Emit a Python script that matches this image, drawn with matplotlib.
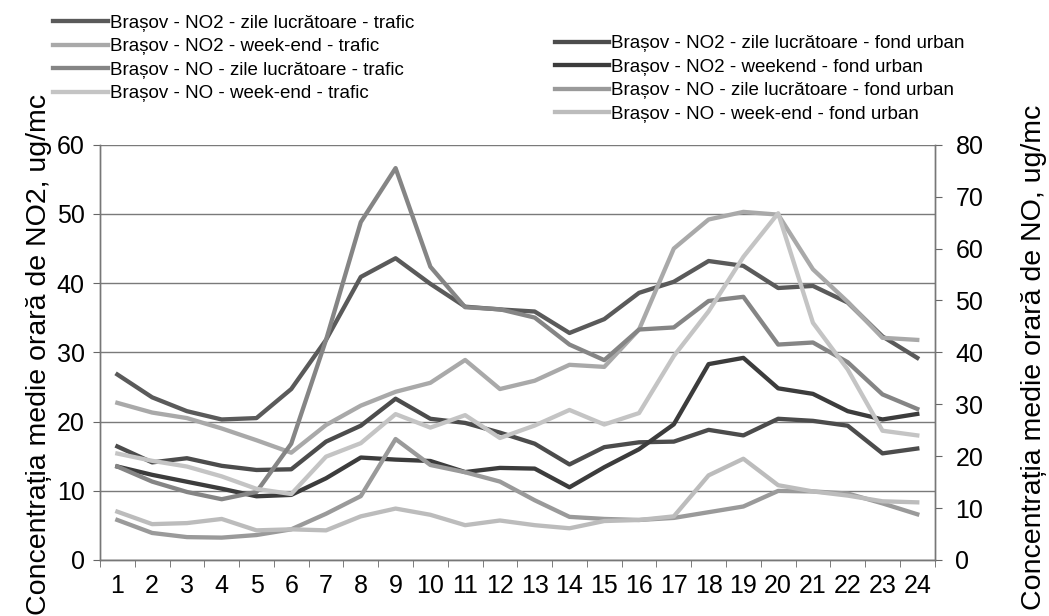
import matplotlib
matplotlib.use("Agg")
import matplotlib.pyplot as plt

plt.rcParams['font.family'] = ['Liberation Sans', 'DejaVu Sans']

hours = list(range(1, 25))
hour_labels = [str(h) for h in hours]

# NO2 series (left axis, ug/mc)
no2_zile_trafic = [26.8, 23.5, 21.5, 20.3, 20.5, 24.7, 31.8, 40.9, 43.6, 39.9, 36.6, 36.2,
                   35.9, 32.8, 34.8, 38.6, 40.2, 43.2, 42.5, 39.3, 39.6, 37.2, 32.3, 29.2]
no2_weekend_trafic = [22.7, 21.3, 20.5, 19.0, 17.3, 15.5, 19.5, 22.3, 24.3, 25.6, 28.9, 24.7,
                      25.9, 28.2, 27.9, 33.3, 45.0, 49.2, 50.3, 49.9, 42.0, 37.3, 32.1, 31.8]
no2_zile_fond = [16.4, 14.1, 14.7, 13.6, 13.0, 13.1, 17.1, 19.4, 23.3, 20.4, 19.8, 18.4,
                 16.8, 13.8, 16.3, 17.0, 17.1, 18.8, 18.0, 20.4, 20.1, 19.4, 15.4, 16.1]
no2_weekend_fond = [13.5, 12.3, 11.3, 10.3, 9.2, 9.4, 11.8, 14.8, 14.5, 14.3, 12.7, 13.3,
                    13.2, 10.5, 13.4, 16.0, 19.6, 28.3, 29.2, 24.8, 24.0, 21.5, 20.3, 21.1]

# NO series (right axis, ug/mc)
no_zile_trafic = [18.0, 15.1, 13.1, 11.7, 13.1, 22.4, 42.4, 65.1, 75.5, 56.5, 48.7, 48.3,
                  46.7, 41.5, 38.5, 44.4, 44.8, 49.9, 50.7, 41.5, 41.9, 38.1, 31.9, 29.1]
no_weekend_trafic = [20.5, 19.1, 18.0, 16.1, 13.7, 12.7, 19.9, 22.5, 28.1, 25.5, 27.9, 23.5,
                     25.9, 28.9, 26.1, 28.3, 39.3, 47.9, 58.4, 66.8, 45.7, 36.7, 24.9, 24.0]
no_zile_fond = [7.7, 5.2, 4.4, 4.3, 4.8, 5.9, 8.9, 12.3, 23.3, 18.3, 16.9, 15.1,
                11.5, 8.3, 7.9, 7.7, 8.1, 9.2, 10.3, 13.3, 13.2, 12.8, 10.9, 8.8]
no_weekend_fond = [9.3, 6.9, 7.1, 7.9, 5.7, 5.9, 5.7, 8.4, 9.9, 8.7, 6.7, 7.6,
                   6.7, 6.1, 7.5, 7.7, 8.4, 16.3, 19.5, 14.4, 13.2, 12.4, 11.3, 11.1]

left_series = [
    ("Brașov - NO2 - zile lucrătoare - trafic", no2_zile_trafic, "#5a5a5a"),
    ("Brașov - NO2 - week-end - trafic", no2_weekend_trafic, "#a9a9a9"),
    ("Brașov - NO2 - zile lucrătoare - fond urban", no2_zile_fond, "#4c4c4c"),
    ("Brașov - NO2 - weekend - fond urban", no2_weekend_fond, "#3c3c3c"),
]
right_series = [
    ("Brașov - NO - zile lucrătoare - trafic", no_zile_trafic, "#858585"),
    ("Brașov - NO - week-end - trafic", no_weekend_trafic, "#c4c4c4"),
    ("Brașov - NO - zile lucrătoare - fond urban", no_zile_fond, "#9a9a9a"),
    ("Brașov - NO - week-end - fond urban", no_weekend_fond, "#bcbcbc"),
]

LW = 3.1
fig = plt.figure(figsize=(10.49, 6.16), dpi=100)
ax = fig.add_axes([0.0953, 0.091, 0.7957, 0.674])
ax2 = ax.twinx()

handles = {}
for lab, vals, col in left_series:
    h, = ax.plot(hours, vals, color=col, lw=LW, zorder=3)
    handles[lab] = h
for lab, vals, col in right_series:
    h, = ax2.plot(hours, vals, color=col, lw=LW, zorder=3)
    handles[lab] = h

ax.set_xlim(0.5, 24.5)
ax.set_ylim(0, 60)
ax2.set_ylim(0, 80)
ax.set_yticks(range(0, 61, 10))
ax2.set_yticks(range(0, 81, 10))
ax.set_xticks(hours)
ax.set_xticklabels(hour_labels)
ax.set_xticks([h + 0.5 for h in range(0, 25)], minor=True)
ax.tick_params(axis='x', which='major', length=0, pad=10, labelsize=18)
ax.tick_params(axis='x', which='minor', length=5, direction='out', color='#666666')
ax.tick_params(axis='y', length=5, direction='out', labelsize=18, color='#666666', pad=6)
ax2.tick_params(axis='y', length=5, direction='out', labelsize=18, color='#666666', pad=10)

ax.grid(axis='y', color='#7a7a7a', lw=1.0)
ax.set_axisbelow(True)
for a in (ax, ax2):
    a.spines['top'].set_visible(False)
    for s in ('left', 'right', 'bottom'):
        a.spines[s].set_color('#777777')
        a.spines[s].set_linewidth(1.0)

fig.text(0.037, 0.425, "Concentrația medie orară de NO2, ug/mc", rotation=90,
         ha='center', va='center', fontsize=20.5)
fig.text(0.986, 0.42, "Concentrația medie orară de NO, ug/mc", rotation=90,
         ha='center', va='center', fontsize=20.5)

left_leg = ["Brașov - NO2 - zile lucrătoare - trafic", "Brașov - NO2 - week-end - trafic",
            "Brașov - NO - zile lucrătoare - trafic", "Brașov - NO - week-end - trafic"]
right_leg = ["Brașov - NO2 - zile lucrătoare - fond urban", "Brașov - NO2 - weekend - fond urban",
             "Brașov - NO - zile lucrătoare - fond urban", "Brașov - NO - week-end - fond urban"]

leg1 = fig.legend([handles[l] for l in left_leg], left_leg, loc='upper left',
                  bbox_to_anchor=(0.041, 0.993), frameon=False, fontsize=13.5,
                  handlelength=2.9, handletextpad=0.1, labelspacing=0.34, borderaxespad=0.15)
leg2 = fig.legend([handles[l] for l in right_leg], right_leg, loc='upper left',
                  bbox_to_anchor=(0.519, 0.96), frameon=False, fontsize=13.5,
                  handlelength=2.9, handletextpad=0.1, labelspacing=0.34, borderaxespad=0.15)

fig.savefig("out.png", dpi=100)
